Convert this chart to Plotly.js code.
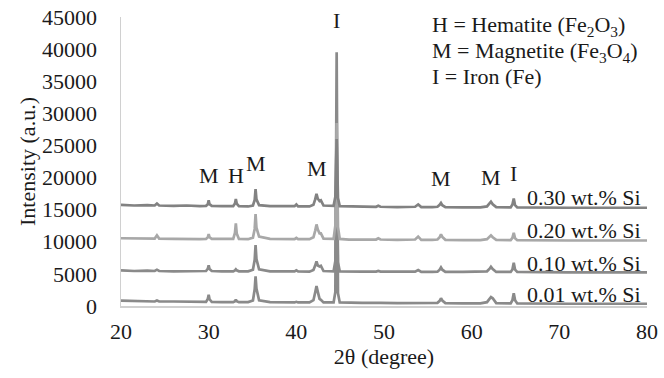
<!DOCTYPE html>
<html>
<head>
<meta charset="utf-8">
<script src="https://cdn.plot.ly/plotly-3.0.1.min.js"></script>
<style>html,body{margin:0;padding:0;background:#fff;}#chart{width:664px;height:378px;}</style>
</head>
<body>
<div id="chart"></div>
<script>
// 2θ positions (degree), shared by all four patterns
const two_theta = [20, 21.5, 23.0, 23.85, 24.1, 24.35, 26.0, 27.5, 29.0, 29.7, 29.9, 30.0, 30.1, 30.35, 31.5, 32.8, 33.0, 33.1, 33.2, 33.45, 34.5, 35.05, 35.25, 35.35, 35.45, 35.75, 37.0, 38.5, 39.8, 40.0, 40.2, 41.5, 41.95, 42.15, 42.3, 42.45, 42.65, 42.8, 43.1, 44.25, 44.45, 44.6, 44.75, 44.95, 46.0, 47.5, 49.1, 49.35, 49.6, 51.5, 53.55, 53.9, 54.25, 55.5, 56.1, 56.35, 56.5, 56.65, 57.0, 59.0, 61.0, 61.75, 62.05, 62.2, 62.4, 62.8, 64.45, 64.65, 64.8, 64.95, 65.2, 67.0, 69.0, 71.0, 73.0, 75.0, 77.0, 78.5, 80.0];

const intensity_030 = [15750, 15650, 15700, 15650, 15950, 15650, 15600, 15650, 15550, 15600, 15850, 16450, 15850, 15600, 15550, 15550, 15950, 16650, 15950, 15550, 15500, 15650, 16500, 18200, 16600, 15700, 15550, 15500, 15550, 15800, 15500, 15500, 15750, 16600, 17450, 16700, 16350, 16450, 15650, 15600, 17000, 26000, 16800, 15550, 15500, 15450, 15450, 15600, 15450, 15400, 15450, 15800, 15400, 15400, 15450, 15750, 16050, 15700, 15400, 15350, 15350, 15500, 15900, 16250, 15850, 15400, 15350, 15800, 16750, 15700, 15350, 15300, 15350, 15300, 15300, 15350, 15300, 15300, 15300];

const intensity_020 = [10550, 10500, 10500, 10500, 11000, 10500, 10450, 10400, 10400, 10450, 10700, 11200, 10700, 10450, 10400, 10450, 11400, 12850, 11300, 10450, 10400, 10650, 12000, 14300, 12200, 10800, 10450, 10400, 10400, 10600, 10400, 10400, 10700, 11700, 12700, 11900, 11300, 11300, 10500, 10450, 12500, 28500, 12300, 10450, 10350, 10350, 10350, 10550, 10350, 10300, 10350, 10800, 10300, 10300, 10350, 10700, 11150, 10750, 10300, 10250, 10250, 10400, 10750, 11000, 10700, 10300, 10250, 10600, 11400, 10550, 10250, 10200, 10250, 10200, 10200, 10200, 10200, 10200, 10200];

const intensity_010 = [5550, 5450, 5500, 5450, 5650, 5450, 5400, 5450, 5400, 5450, 5800, 6350, 5750, 5450, 5400, 5400, 5550, 5700, 5550, 5400, 5400, 5650, 7200, 9500, 7300, 5700, 5400, 5400, 5400, 5550, 5400, 5350, 5600, 6300, 6950, 6300, 6150, 6250, 5450, 5400, 7000, 24000, 6800, 5400, 5350, 5350, 5350, 5450, 5350, 5300, 5350, 5600, 5300, 5300, 5350, 5650, 6000, 5650, 5300, 5300, 5300, 5400, 5800, 6100, 5750, 5300, 5300, 5700, 6750, 5650, 5300, 5250, 5300, 5250, 5250, 5250, 5250, 5250, 5250];

const intensity_001 = [850, 750, 750, 700, 850, 700, 700, 700, 650, 650, 1100, 1750, 1050, 650, 600, 600, 750, 1000, 750, 600, 600, 850, 2600, 4600, 2700, 900, 600, 550, 550, 650, 550, 550, 900, 2100, 3100, 2200, 1100, 950, 550, 550, 2200, 39500, 2000, 550, 500, 500, 500, 550, 500, 450, 450, 500, 450, 450, 500, 800, 1200, 850, 450, 400, 400, 600, 1100, 1400, 1200, 450, 400, 900, 2000, 900, 400, 350, 350, 350, 350, 350, 350, 350, 350];

const series_labels = ["0.30 wt.% Si", "0.20 wt.% Si", "0.10 wt.% Si", "0.01 wt.% Si"];
const series_label_y = [16900, 11700, 6560, 1720];

const phase_letters = ["M", "H", "M", "M", "I", "M", "M", "I"];
const phase_x = [30.0, 33.1, 35.4, 42.3, 44.6, 56.5, 62.2, 64.8];
const phase_y = [20300, 20300, 22200, 21400, 44500, 19800, 20000, 20600];

const key_lines = ["H = Hematite (Fe<sub>2</sub>O<sub>3</sub>)", "M = Magnetite (Fe<sub>3</sub>O<sub>4</sub>)", "I = Iron (Fe)"];
const key_y = [43600, 39600, 35700];

const x_title = "2θ (degree)";
const y_title = "Intensity (a.u.)";

const FONT = "Liberation Serif";
const TXT = "#1a1a1a";

const seriesData = [intensity_001, intensity_010, intensity_020, intensity_030];
const seriesColors = ["#8a8a8a", "#8a8a8a", "#a8a8a8", "#828282"];
const traces = seriesData.map((y, i) => ({
  type: "scatter", mode: "lines", x: two_theta, y: y,
  line: {color: seriesColors[i], width: 2.7},
  hoverinfo: "skip", showlegend: false
}));

const annotations = [];
series_labels.forEach((t, i) => annotations.push({
  text: t, x: 79.5, y: series_label_y[i], xref: "x", yref: "y",
  xanchor: "right", yanchor: "middle", showarrow: false,
  font: {family: FONT, size: 22, color: TXT}
}));
phase_letters.forEach((t, i) => annotations.push({
  text: t, x: phase_x[i], y: phase_y[i], xref: "x", yref: "y",
  xanchor: "center", yanchor: "middle", showarrow: false,
  font: {family: FONT, size: 22, color: TXT}
}));
key_lines.forEach((t, i) => annotations.push({
  text: t, x: 55.3, y: key_y[i], xref: "x", yref: "y",
  xanchor: "left", yanchor: "middle", showarrow: false,
  font: {family: FONT, size: 22, color: TXT}
}));

const layout = {
  width: 664, height: 378,
  margin: {l: 121, r: 17, t: 17, b: 72},
  paper_bgcolor: "#ffffff", plot_bgcolor: "#ffffff",
  font: {family: FONT, size: 22, color: TXT},
  xaxis: {
    range: [20, 80], dtick: 10, tick0: 20, showgrid: false, zeroline: false,
    showline: true, linecolor: "#d0d0d0", linewidth: 1.5, ticks: "",
    ticklabelstandoff: 5,
    tickfont: {family: FONT, size: 22, color: TXT},
    title: {text: x_title, standoff: 1, font: {family: FONT, size: 22, color: TXT}},
    automargin: false
  },
  yaxis: {
    range: [0, 45000], dtick: 5000, tick0: 0, tickformat: "d", showgrid: false, zeroline: false,
    showline: true, linecolor: "#d0d0d0", linewidth: 1.5, ticks: "",
    ticklabelstandoff: 18,
    tickfont: {family: FONT, size: 22, color: TXT},
    title: {text: y_title, font: {family: FONT, size: 22, color: TXT}},
    automargin: false
  },
  annotations: annotations
};

Plotly.newPlot("chart", traces, layout, {staticPlot: true, displayModeBar: false});
</script>
</body>
</html>
